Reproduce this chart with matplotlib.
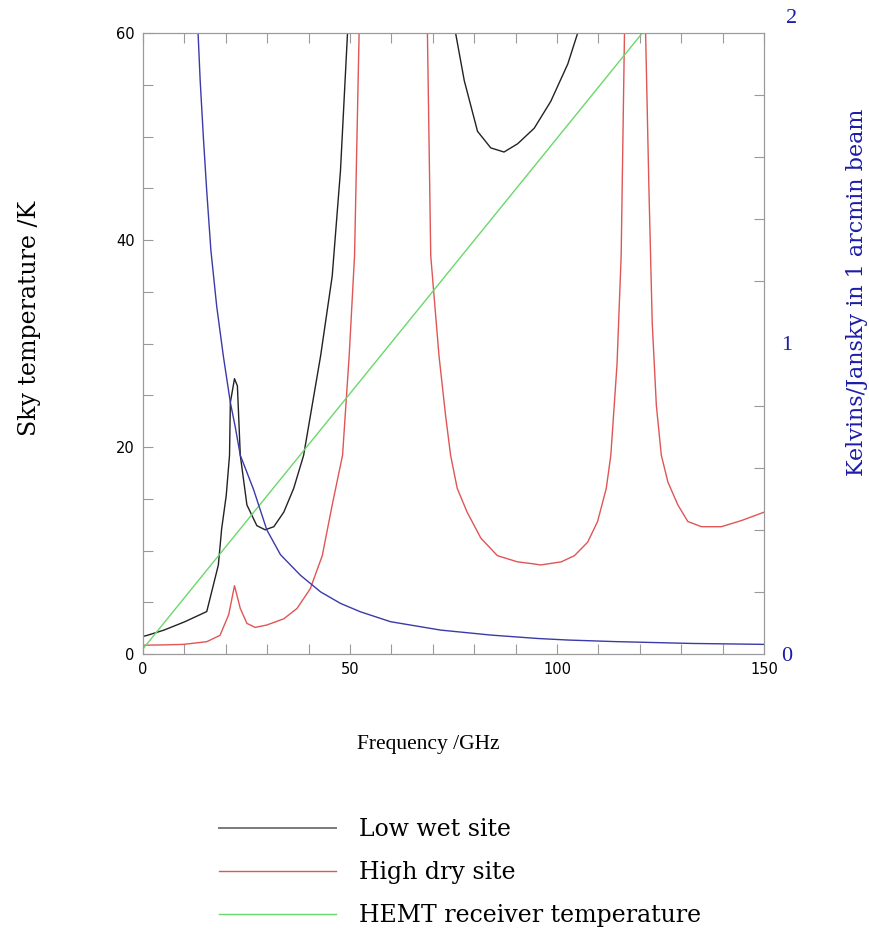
import numpy as np
import matplotlib
matplotlib.use("Agg")
import matplotlib.pyplot as plt
import matplotlib.transforms as mtransforms
from matplotlib.lines import Line2D
from matplotlib.ticker import MultipleLocator

# Low wet site sky temperature (K) vs frequency (GHz)
freq_low = [0, 1, 5, 10, 15.4, 18.2, 19, 20.1, 20.9, 21.1, 22.1, 22.8, 23.5, 25.1,
            27.5, 29.5, 31.6, 34, 36.4, 38.8, 42.9, 45.7, 47.7, 49.4, 50.5,
            74.5, 75.5, 77.6, 80.8, 84, 87.2, 90.5, 94.5, 98.5, 102.6, 105, 106, 150]
temp_low = [1.7, 1.8, 2.3, 3.1, 4.1, 8.6, 12.1, 15.3, 19.2, 24.3, 26.6, 25.9, 19.2, 14.4,
            12.4, 12.0, 12.3, 13.7, 16.0, 19.2, 28.8, 36.5, 46.7, 60, 70,
            70, 60, 55.4, 50.5, 48.9, 48.5, 49.3, 50.8, 53.4, 57, 60, 62, 200]

# High dry site sky temperature (K)
freq_high = [0, 5, 9.8, 15.4, 18.6, 20.7, 22.1, 23.5, 25.1, 27.1, 29.9, 34, 37.2, 40.4,
             43.3, 45.7, 48.2, 49.8, 51.1, 52.2, 53, 68, 68.7, 69.5, 70.3, 71.5, 73.1,
             74.3, 75.9, 78.3, 81.6, 85.6, 90.5, 94.5, 96, 101, 104.2, 107.4, 109.8,
             111.9, 113, 114.5, 115.5, 116.3, 117, 121, 121.4, 122.2, 123, 124, 125.2,
             126.8, 129.2, 131.6, 134.9, 139.7, 144.6, 150]
temp_high = [0.85, 0.88, 0.93, 1.19, 1.8, 3.8, 6.6, 4.4, 2.96, 2.57, 2.8, 3.4, 4.4, 6.3,
             9.5, 14.4, 19.2, 28.8, 38.5, 60, 70, 70, 60, 38.5, 34.6, 28.8, 23,
             19.2, 16, 13.7, 11.2, 9.5, 8.9, 8.7, 8.6, 8.9, 9.5, 10.8, 12.8,
             16, 19.2, 28, 38.5, 60, 70, 70, 60, 45, 32, 24, 19.2,
             16.6, 14.4, 12.8, 12.3, 12.3, 12.9, 13.7]

# HEMT receiver temperature (K), straight line
freq_hemt = [0, 150]
temp_hemt = [0.5, 74.5]

# Kelvins/Jansky in 1 arcmin beam (right axis)
freq_kjy = [13.3, 13.8, 14.6, 15.4, 16.4, 17.8, 19.4, 21.1, 22.3, 23.5, 26.7, 29.9,
            33.2, 38, 42.9, 47.7, 52.5, 59.8, 71.9, 84, 95.3, 102.6, 113.9, 132.4, 150]
kjy = [2.0, 1.85, 1.66, 1.49, 1.30, 1.12, 0.96, 0.81, 0.73, 0.64, 0.53, 0.40,
       0.32, 0.254, 0.20, 0.163, 0.136, 0.104, 0.077, 0.061, 0.05, 0.045, 0.040, 0.034, 0.031]

serif = "Liberation Serif"
wide_serif = "DejaVu Serif"
blue_txt = "#1c1ca8"
spine_col = "#9a9a9a"
c_low, c_high, c_hemt, c_kjy = "#222222", "#e05555", "#6ad86a", "#3a3aa8"

fig = plt.figure(figsize=(8.69, 9.35), dpi=100)
ax = fig.add_axes([143 / 869, 1 - 654 / 935, 621 / 869, 621 / 935])

ax.plot(freq_low, temp_low, color=c_low, lw=1.0)
ax.plot(freq_high, temp_high, color=c_high, lw=1.0)
ax.plot(freq_hemt, temp_hemt, color=c_hemt, lw=1.0)

ax.set_xlim(0, 150)
ax.set_ylim(0, 60)
ax.xaxis.set_major_locator(MultipleLocator(50))
ax.xaxis.set_minor_locator(MultipleLocator(10))
ax.yaxis.set_major_locator(MultipleLocator(20))
ax.yaxis.set_minor_locator(MultipleLocator(5))
ax.tick_params(which="both", direction="in", top=True, right=False, length=7,
               width=0.8, color=spine_col, labelsize=10.5, pad=6)
for s in ax.spines.values():
    s.set_color(spine_col)
    s.set_linewidth(0.8)

# right axis for the beam conversion
ax2 = ax.twinx()
ax2.plot(freq_kjy, kjy, color=c_kjy, lw=1.0)
ax2.set_ylim(0, 2)
ax2.set_yticks([0, 1, 2])
ax2.yaxis.set_minor_locator(MultipleLocator(0.2))
ax2.tick_params(which="both", direction="in", length=7, width=0.8, color=spine_col,
                labelsize=16, labelcolor=blue_txt, pad=12)
ax2.tick_params(which="major", length=0)
for s in ax2.spines.values():
    s.set_color(spine_col)
    s.set_linewidth(0.8)
fig.canvas.draw()
for tick in ax2.yaxis.get_major_ticks():
    lab = tick.label2
    lab.set_family(serif)
    if lab.get_text() == "2":
        # the top "2" sits a bit above the frame in the original
        lab.set_transform(lab.get_transform()
                          + mtransforms.ScaledTranslation(0.05, 0.17, fig.dpi_scale_trans))

# axis titles placed where the original has them
fig.text(428 / 869, 1 - 745 / 935, "Frequency /GHz", family=serif, fontsize=15.5,
         ha="center", va="center")
fig.text(30 / 869, 1 - 318 / 935, "Sky temperature /K", family=wide_serif, fontsize=17,
         rotation=90, ha="center", va="center")
fig.text(857 / 869, 1 - 292 / 935, "Kelvins/Jansky in 1 arcmin beam", family=wide_serif,
         fontsize=16, color=blue_txt, rotation=90, ha="center", va="center")

handles = [Line2D([], [], color="#7a7a7a", lw=1.4),
           Line2D([], [], color=c_high, lw=1.0),
           Line2D([], [], color=c_hemt, lw=1.0)]
labels = ["Low wet site", "High dry site", "HEMT receiver temperature"]
fig.legend(handles, labels, loc="upper left", bbox_to_anchor=(219 / 869, 1 - 818 / 935),
           frameon=False, prop={"family": wide_serif, "size": 17}, handlelength=4.95,
           handletextpad=1.0, labelspacing=0.85, borderpad=0, borderaxespad=0)

fig.savefig("out.png", dpi=100)
